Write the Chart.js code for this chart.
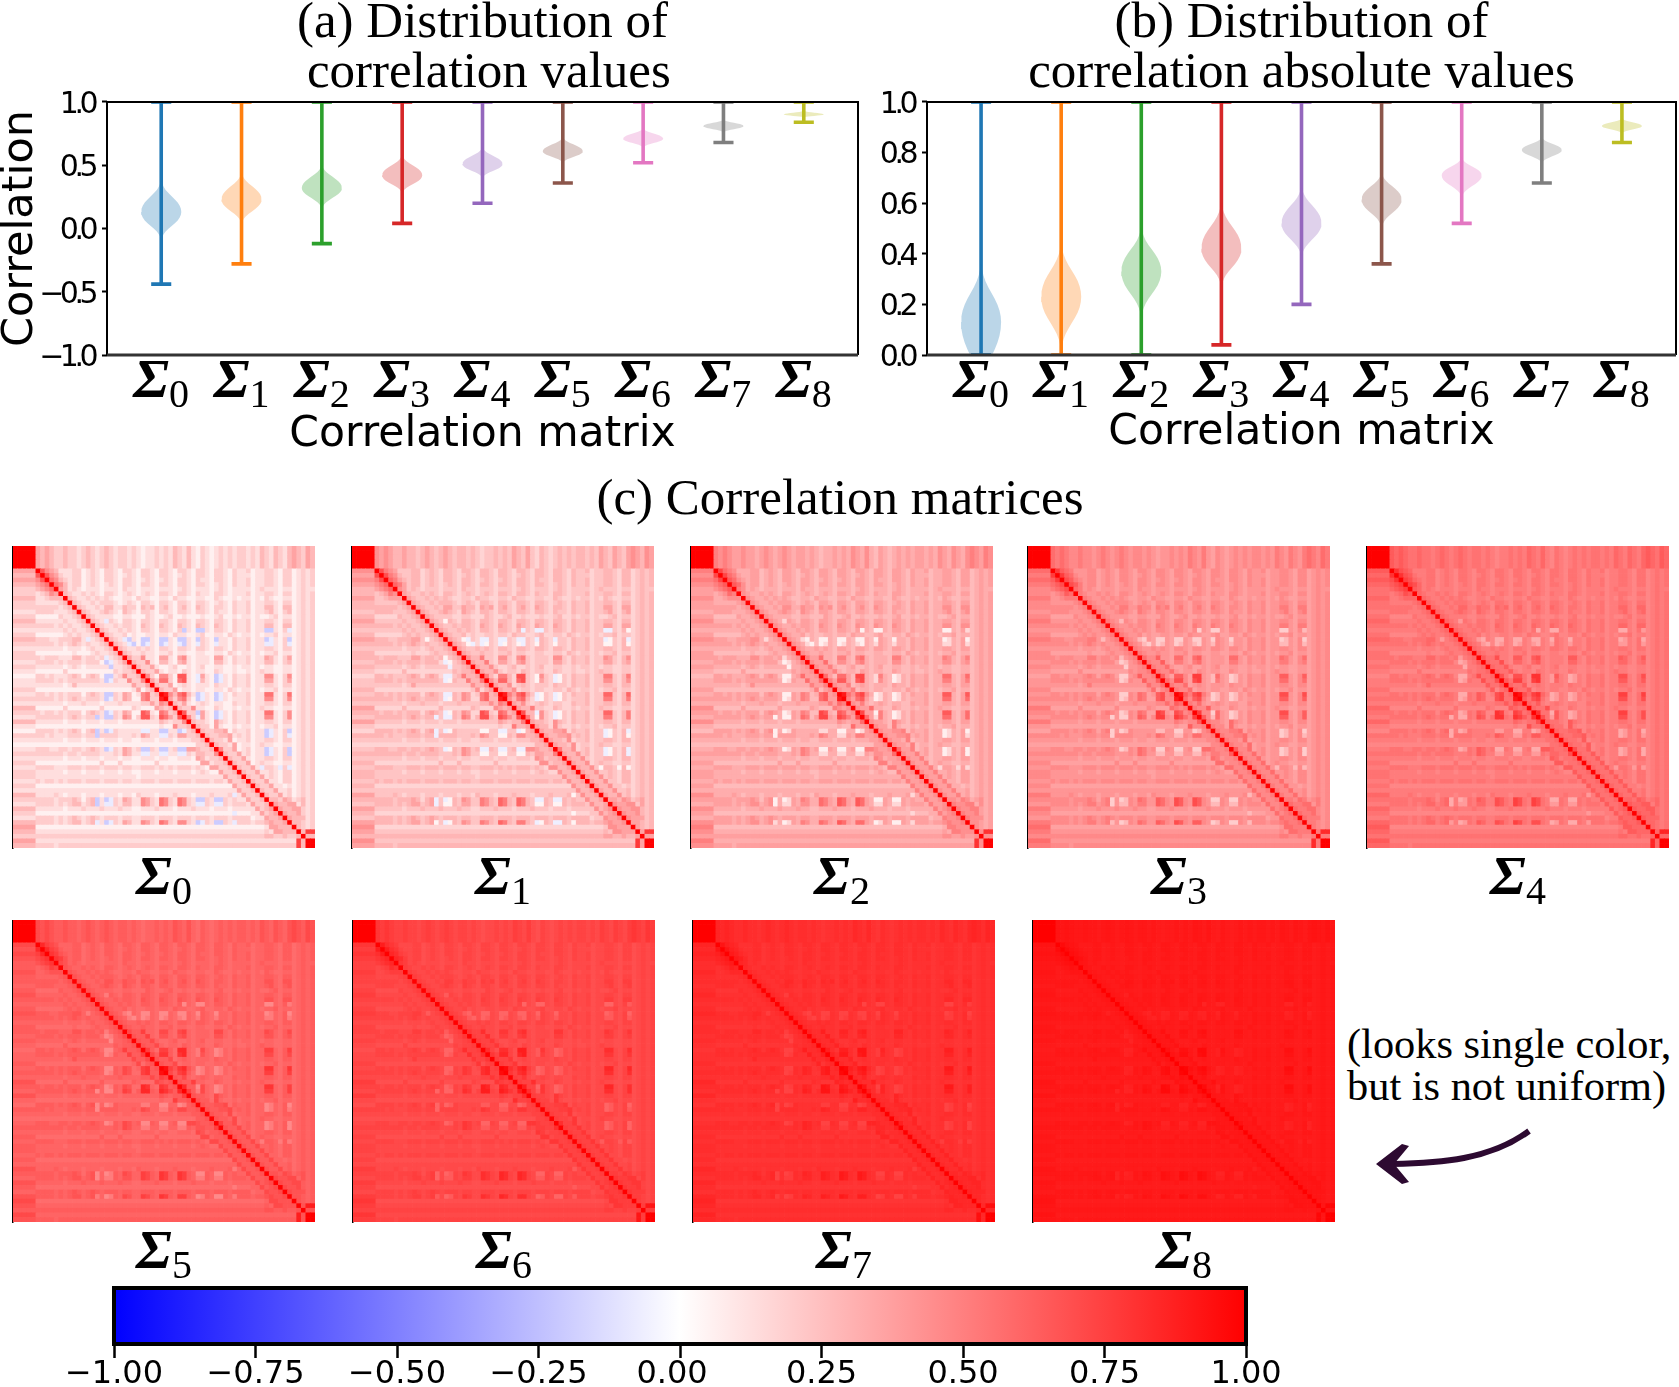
<!DOCTYPE html>
<html><head><meta charset="utf-8">
<script src="https://cdn.jsdelivr.net/npm/chart.js@4"></script>
<style>
html,body{margin:0;padding:0;background:#fff;width:1679px;height:1387px;overflow:hidden}
canvas{position:absolute}
.t{position:absolute;font-family:"Liberation Serif";color:#000;white-space:nowrap}
svg{position:absolute;left:0;top:0}
</style></head><body>
<div class="t" id="ctitle" style="left:840px;top:469px;font-size:51px;line-height:56px;transform:translateX(-50%)">(c) Correlation matrices</div>
<div class="t" style="left:1347px;top:1023px;font-size:42.4px;line-height:42px">(looks single color,<br>but is not uniform)</div>
<svg width="1679" height="1387"><path d="M1529 1131 C1490 1160 1440 1163 1392 1164" fill="none" stroke="#2d0a31" stroke-width="6"/><path d="M1376 1164 L1402 1144 L1409 1146 L1394 1164 L1409 1182 L1402 1184 Z" fill="#2d0a31"/></svg>
<script>
// ---------- data ----------
const sigmaIds = [0,1,2,3,4,5,6,7,8];
const violinColors = ['#1f77b4','#ff7f0e','#2ca02c','#d62728','#9467bd','#8c564b','#e377c2','#7f7f7f','#bcbd22'];
const aWhiskerLow = [-0.44,-0.28,-0.12,0.04,0.20,0.36,0.52,0.68,0.84];
const aWhiskerHigh = [1,1,1,1,1,1,1,1,1];
const aTipLow  = [-0.09,0.04,0.16,0.28,0.40,0.52,0.64,0.76,0.88];
const aMode    = [0.13,0.23,0.32,0.42,0.51,0.61,0.71,0.81,0.90];
const aTipHigh = [0.38,0.44,0.50,0.58,0.64,0.72,0.79,0.86,0.93];
const bWhiskerLow = [0,0,0,0.04,0.20,0.36,0.52,0.68,0.84];
const bWhiskerHigh = [1,1,1,1,1,1,1,1,1];
const bTipLow  = [-0.14,0.02,0.15,0.27,0.39,0.505,0.625,0.76,0.877];
const bMode    = [0.13,0.23,0.33,0.42,0.52,0.615,0.71,0.81,0.905];
const bTipHigh = [0.36,0.44,0.505,0.60,0.665,0.72,0.78,0.86,0.935];
const violinProfile = [1,0.98,0.92,0.82,0.68,0.52,0.36,0.22,0.12,0.05,0];
const aYTicks = [-1,-0.5,0,0.5,1];
const bYTicks = [0,0.2,0.4,0.6,0.8,1];
const colorbarTicks = [-1,-0.75,-0.5,-0.25,0,0.25,0.5,0.75,1];
// mean shift of each matrix toward 1
const mixWeights = [0,0.115,0.22,0.33,0.44,0.55,0.67,0.78,0.885];
// colour levels used by the hand-read grid below
const cellLevels = {a:-0.2,b:-0.08,0:0.06,1:0.13,2:0.2,3:0.28,4:0.36,5:0.45,6:0.55,7:0.65,8:0.75,9:0.88,X:1};
// upper triangle of Sigma_0, row i starts at column i
const band = "4343 22322 12321 23212 21210 11212 13213 10210 12121 22121 32132 1343243";
const sigma0Rows = [
"XXXXX "+band,"XXXX "+band,"XXX "+band,"XX "+band,"X "+band,
"X7543 1112201210 2210221022 1022102210 2210221021 1201122102 201212",
"X754 2112201210 2210121022 1022101210 2210221021 1101122102 201212",
"X65 3212201210 2210221012 1012102210 2110221021 1201122102 201212",
"X6 5312201210 1210221022 1022102210 2210121021 1201122102 201212",
"X 4312101110 1110211011 1011101210 1110121011 1101211101 101211",
"X321121210 2210121012 1022102210 2110221011 1201122102 201212",
"X32112121 2100110211 0011021100 1100210010 1101021001 101212",
"X3211212 2210121022 1022102210 2210121021 1201122102 201212",
"X321121 3311322032 3023102310 3210221021 1201133103 301212",
"X32112 3210321022 1022102210 2210211021 1201123102 301212",
"X3211 1100110002 1001200100 0100120010 1101001201 101212",
"X321 b210221022 1022102210 2210221021 1201122102 201212",
"X32 1121221032 1032103210 3210321021 1201133103 301212",
"X3 2112121022 1022102a10 aa10221021 12011aa102 b01212",
"X 3211201001 1011021100 1200110210 1101011201 101212",
"X321ba10aa 10aa10aa10 a210a11021 12011ab102 a01212",
"X321ba0ab 10ab10ba10 b210b11021 12011bb102 b01212",
"X3211212 1022102210 2210221021 1201122102 201212",
"X321121 1011201100 1100110210 1101011201 101212",
"X42251 1044104510 1110441021 1201143102 401212",
"X3225 1033103410 1110331021 1201133102 301212",
"X322 4100120010 1200110010 1101011001 101212",
"X32 2410110210 1100210010 0101211001 101212",
"X5 2055207710 b410ab1021 1201155102 501212",
"X 4266206710 b310ab1021 1201144102 401212",
"X322401210 1110211021 1201122102 201212",
"X32240110 1100110210 1101011201 101212",
"X9536731 ab10ab1021 1201166102 601212",
"X425620 ab10ab1011 1201155102 501212",
"X32410 1210110021 1201122102 201212",
"X3225 1100210010 1101211001 101212",
"X722 a410ab1021 1201166102 501212",
"X52 b410ab1021 1201155102 501212",
"X3 2210421021 1201122102 201212",
"X 3220410010 1101011201 101212",
"X322334021 12011ab102 a01212",
"X32233412 12011ab102 b01212",
"X3221401 1201122102 201212",
"X322140 1101211001 101212",
"X52240 12011ab102 a01212",
"X3224 12011ab102 a01212",
"X322 4101122102 201212",
"X32 2401211001 101212",
"X3 2241b221b2 b01212",
"X 3224112102 201212",
"X322412102 201212",
"X32241102 201212",
"X3224110 101212",
"X322411 201212",
"X32241 201212",
"X3324 312312",
"X433 441312",
"X43 344212",
"X4 334212",
"X 433312",
"X33212","X3212","X388","X33","XX","X"
];
// ---------- layout ----------
const heatBoxes = [[12,546],[351,546],[690,546],[1027,546],[1366,546],[12,920],[352,920],[692,920],[1032,920]];
const heatSize = 302;
const serif = '"Liberation Serif"', sans = '"DejaVu Sans"';
Chart.defaults.animation = false;
Chart.defaults.devicePixelRatio = 1;
Chart.defaults.responsive = false;

function addCanvas(l,t,w,h){const c=document.createElement('canvas');c.width=w;c.height=h;c.style.left=l+'px';c.style.top=t+'px';c.style.width=w+'px';c.style.height=h+'px';document.body.appendChild(c);return c;}
function drawSigma(ctx,cx,base,digit){
  ctx.save();ctx.fillStyle='#000';ctx.textAlign='left';ctx.textBaseline='alphabetic';
  const sf='italic bold 55px '+serif,stretch=1.05;
  ctx.font=sf;const w1=ctx.measureText('Σ').width*stretch;
  ctx.font='40px '+serif;const w2=ctx.measureText(String(digit)).width;
  const x0=cx-(w1+w2)/2;
  ctx.save();ctx.translate(x0,base);ctx.scale(stretch,1);ctx.font=sf;ctx.fillText('Σ',0,0);ctx.restore();
  ctx.font='40px '+serif;ctx.fillText(String(digit),x0+w1,base+10);
  ctx.restore();
}
function fmt(v,d){return (v<0?'\u2212':'')+Math.abs(v).toFixed(d);}
const axisText={id:'axisText',afterDraw(ch){
  const ctx=ch.ctx,y=ch.scales.y,x=ch.scales.x,a=ch.chartArea;
  ctx.save();ctx.font='30px '+sans;ctx.fillStyle='#000';ctx.textAlign='right';ctx.textBaseline='middle';ctx.letterSpacing='-4.5px';
  y.ticks.forEach((t,i)=>ctx.fillText(t.label,a.left-13,y.getPixelForTick(i)+3));
  ctx.restore();
  x.ticks.forEach((t,i)=>drawSigma(ctx,x.getPixelForTick(i),a.bottom+42,sigmaIds[i]));
}};
const boxLine={id:'boxLine',afterDatasetsDraw(ch){
  const c=ch.ctx,a=ch.chartArea;c.save();c.strokeStyle='#000';c.lineWidth=2;c.beginPath();
  c.moveTo(a.left,a.bottom);c.lineTo(a.left,a.top);c.lineTo(a.right,a.top);c.lineTo(a.right,a.bottom);c.stroke();
  c.strokeStyle='#333';c.lineWidth=3;c.beginPath();c.moveTo(a.left,a.bottom);c.lineTo(a.right,a.bottom);c.stroke();c.restore();
}};
function violinPoints(pos,lo,mode,hi){
  const half=0.25,n=violinProfile.length,pts=[];
  for(let k=0;k<n;k++)pts.push({x:pos-half*violinProfile[k],y:mode+(hi-mode)*k/(n-1)});
  for(let k=n-2;k>=0;k--)pts.push({x:pos+half*violinProfile[k],y:mode+(hi-mode)*k/(n-1)});
  for(let k=1;k<n;k++)pts.push({x:pos+half*violinProfile[k],y:mode-(mode-lo)*k/(n-1)});
  for(let k=n-2;k>=0;k--)pts.push({x:pos-half*violinProfile[k],y:mode-(mode-lo)*k/(n-1)});
  pts.push({x:pos+half,y:mode});
  return pts;
}
function hexA(h,a){const n=parseInt(h.slice(1),16);return `rgba(${n>>16},${(n>>8)&255},${n&255},${a})`;}
function violinChart(cfg){
  const ds=[];
  sigmaIds.forEach((id,i)=>{
    const p=id+1;
    ds.push({data:violinPoints(p,cfg.tipLow[i],cfg.mode[i],cfg.tipHigh[i]),showLine:true,borderWidth:0,pointRadius:0,fill:'shape',tension:0,backgroundColor:hexA(violinColors[i],0.3),borderColor:'transparent'});
    const lo=cfg.low[i],hi=cfg.high[i],cap=0.125;
    ds.push({data:[{x:p-cap,y:hi},{x:p+cap,y:hi},{x:p,y:hi},{x:p,y:lo},{x:p-cap,y:lo},{x:p+cap,y:lo}],showLine:true,borderWidth:3.6,pointRadius:0,fill:false,tension:0,borderColor:violinColors[i]});
  });
  new Chart(addCanvas(cfg.l,0,cfg.w,cfg.h),{type:'scatter',data:{datasets:ds},plugins:[axisText,boxLine],options:{
    layout:{autoPadding:false,padding:{right:cfg.pr}},
    plugins:{legend:{display:false},tooltip:{enabled:false},title:{display:true,text:cfg.title,fullSize:false,color:'#000',font:{family:serif,size:51,weight:'normal',lineHeight:0.98},padding:{top:-1,bottom:3}}},
    scales:{
      x:{type:'linear',min:0.325,max:9.675,grid:{display:false},border:{display:false},ticks:{display:false},
        afterBuildTicks:s=>{s.ticks=sigmaIds.map(v=>({value:v+1}));},
        title:{display:true,text:'Correlation matrix',color:'#000',font:{family:sans,size:42.5,lineHeight:1.2},padding:0},
        afterFit:s=>{s.height=cfg.h-cfg.bottom;}},
      y:{type:'linear',min:cfg.yTicks[0],max:cfg.yTicks[cfg.yTicks.length-1],border:{display:false},
        grid:{drawOnChartArea:false,drawTicks:true,tickLength:5,tickWidth:2,tickColor:'#000'},ticks:{display:false,callback:v=>fmt(v,1)},
        afterBuildTicks:s=>{s.ticks=cfg.yTicks.map(v=>({value:v}));},
        title:{display:!!cfg.yTitle,text:cfg.yTitle||'',color:'#000',font:{family:sans,size:43,lineHeight:0.95},padding:0},
        afterFit:s=>{s.width=cfg.left;}}
    }}});
}
violinChart({l:0,w:860,h:460,pr:2,left:107,bottom:355,title:['(a) Distribution of','\u00a0correlation values'],yTitle:'Correlation',yTicks:aYTicks,low:aWhiskerLow,high:aWhiskerHigh,tipLow:aTipLow,mode:aMode,tipHigh:aTipHigh});
violinChart({l:850,w:829,h:458,pr:3,left:77,bottom:355,title:['(b) Distribution of','correlation absolute values'],yTicks:bYTicks,low:bWhiskerLow,high:bWhiskerHigh,tipLow:bTipLow,mode:bMode,tipHigh:bTipHigh});

// ---------- matrices ----------
const N=sigma0Rows.length;
const sigma0=Array.from({length:N},()=>new Array(N).fill(0.13));
sigma0Rows.forEach((r,i)=>{const s=r.replace(/ /g,'');for(let j=i;j<N;j++){const c=j-i<s.length?s[j-i]:'1';sigma0[i][j]=cellLevels[c];sigma0[j][i]=cellLevels[c];}});
function bwr(v){v=Math.max(-1,Math.min(1,v));if(v>=0){const g=Math.round(255*(1-v));return `rgb(255,${g},${g})`;}const g=Math.round(255*(1+v));return `rgb(${g},${g},255)`;}
const sigmaLabel={id:'sigmaLabel',afterDraw(ch){const a=ch.chartArea;drawSigma(ch.ctx,(a.left+a.right)/2,a.bottom+46,ch.options.plugins.sigmaLabel.id);}};
sigmaIds.forEach((id,k)=>{
  const [l,t]=heatBoxes[k],w=mixWeights[k];
  const pts=[],cols=[];
  for(let i=0;i<N;i++)for(let j=0;j<N;j++){pts.push({x:j,y:i});cols.push(bwr(w+(1-w)*sigma0[i][j]));}
  const cell=heatSize/N;
  new Chart(addCanvas(l,t,heatSize+1,heatSize+70),{type:'scatter',data:{datasets:[{data:pts,pointStyle:'rect',pointRadius:cell/Math.SQRT2+0.5,pointBorderWidth:0,pointBackgroundColor:cols,pointHoverRadius:0}]},plugins:[sigmaLabel],options:{
    layout:{autoPadding:false,padding:{bottom:70}},events:[],
    plugins:{legend:{display:false},tooltip:{enabled:false},sigmaLabel:{id}},
    scales:{x:{type:'linear',display:false,min:-0.5,max:N-0.5},
      y:{type:'linear',reverse:true,min:-0.5,max:N-0.5,grid:{display:false},ticks:{display:false},border:{display:true,color:'#000',width:1.5},afterFit:s=>{s.width=1;}}}
  }});
});

// ---------- colour bar ----------
new Chart(addCanvas(0,1280,1679,107),{type:'bar',data:{labels:['colorbar'],datasets:[{data:[[-1,1]],barPercentage:1,categoryPercentage:1,
  backgroundColor:c=>{const s=c.chart.scales.x;if(!c.chart.chartArea)return '#fff';const g=c.chart.ctx.createLinearGradient(s.left,0,s.right,0);g.addColorStop(0,'#0000ff');g.addColorStop(0.5,'#ffffff');g.addColorStop(1,'#ff0000');return g;}}]},
  plugins:[{id:'cbBox',afterDatasetsDraw(ch){const c=ch.ctx,a=ch.chartArea;c.save();c.strokeStyle='#000';c.lineWidth=4;c.strokeRect(a.left,a.top,a.right-a.left,a.bottom-a.top);c.restore();}}],
  options:{indexAxis:'y',layout:{padding:{left:114,right:433,top:8}},
    plugins:{legend:{display:false},tooltip:{enabled:false}},
    scales:{y:{display:false},
      x:{type:'linear',min:-1,max:1,border:{display:false},grid:{drawOnChartArea:false,drawTicks:true,tickLength:14,tickWidth:2.5,tickColor:'#000'},
        afterBuildTicks:s=>{s.ticks=colorbarTicks.map(v=>({value:v}));},
        ticks:{autoSkip:false,maxRotation:0,padding:-3,color:'#000',font:{family:sans,size:32},callback:v=>v===0?'0.00\u2002':fmt(v,2)},
        afterFit:s=>{s.height=43;}}}
  }});
</script>
</body></html>
